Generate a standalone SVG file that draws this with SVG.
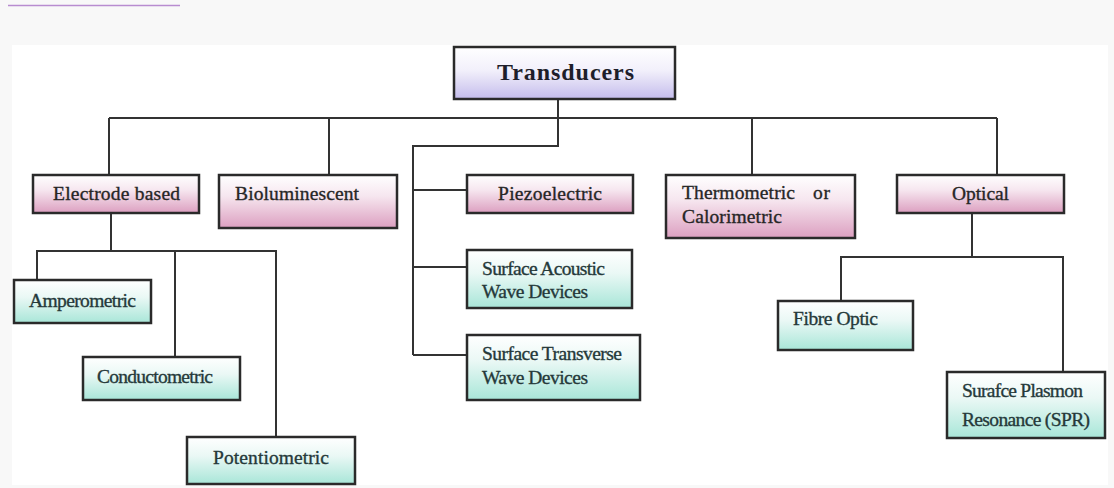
<svg xmlns="http://www.w3.org/2000/svg" width="1114" height="488" viewBox="0 0 1114 488">
<defs>
<linearGradient id="gPurple" x1="0" y1="0" x2="0" y2="1"><stop offset="0" stop-color="#ffffff"/><stop offset="0.45" stop-color="#f2f0fb"/><stop offset="1" stop-color="#c4bcec"/></linearGradient>
<linearGradient id="gPink" x1="0" y1="0" x2="0" y2="1"><stop offset="0" stop-color="#ffffff"/><stop offset="0.4" stop-color="#f6e6ef"/><stop offset="1" stop-color="#dc9fc0"/></linearGradient>
<linearGradient id="gTeal" x1="0" y1="0" x2="0" y2="1"><stop offset="0" stop-color="#ffffff"/><stop offset="0.4" stop-color="#eaf8f5"/><stop offset="1" stop-color="#a8e6d8"/></linearGradient>
</defs>
<style>
.box{stroke:#2a2a2a;stroke-width:2.5}
.p{fill:url(#gPink)}
.t{fill:url(#gTeal)}
.lbl{font-family:"Liberation Serif","Times New Roman",serif;font-size:19.5px;fill:#262626;stroke:#262626;stroke-width:0.35}
.tl{fill:#25393a;stroke:#25393a}
.title{font-family:"Liberation Serif","Times New Roman",serif;font-size:24px;font-weight:bold;fill:#1e1e2a}
.conn{fill:none;stroke:#333;stroke-width:2}
</style>
<rect x="0" y="0" width="1114" height="488" fill="#f8f8f8"/>
<rect x="12" y="45" width="1096" height="440" fill="#ffffff"/>
<line x1="8" y1="5.5" x2="180" y2="5.5" stroke="#b88cd0" stroke-width="1.5"/>

<g id="connectors">
<polyline class="conn" points="558,99 558,146 413,146 413,355"/>
<line class="conn" x1="109" y1="118" x2="997" y2="118"/>
<line class="conn" x1="109" y1="118" x2="109" y2="175"/>
<line class="conn" x1="329" y1="118" x2="329" y2="175"/>
<line class="conn" x1="752" y1="118" x2="752" y2="175"/>
<line class="conn" x1="997" y1="118" x2="997" y2="175"/>
<line class="conn" x1="413" y1="190" x2="467" y2="190"/>
<line class="conn" x1="413" y1="267" x2="467" y2="267"/>
<line class="conn" x1="413" y1="355" x2="467" y2="355"/>
<line class="conn" x1="111" y1="213" x2="111" y2="251"/>
<polyline class="conn" points="37,280 37,251 276,251 276,437"/>
<line class="conn" x1="175" y1="251" x2="175" y2="357"/>
<line class="conn" x1="972" y1="213" x2="972" y2="257"/>
<polyline class="conn" points="841,301 841,257 1063,257 1063,372"/>
</g>

<g id="transducers">
<rect class="box" x="454" y="47" width="221" height="52" fill="url(#gPurple)"/>
<text class="title" x="497" y="80" textLength="137" lengthAdjust="spacing">Transducers</text>
</g>
<g id="electrode">
<rect class="box p" x="33" y="175" width="166" height="38"/>
<text class="lbl" x="53" y="200" textLength="127" lengthAdjust="spacing">Electrode based</text>
</g>
<g id="bioluminescent">
<rect class="box p" x="219" y="175" width="178" height="53"/>
<text class="lbl" x="235" y="200" textLength="124" lengthAdjust="spacing">Bioluminescent</text>
</g>
<g id="piezoelectric">
<rect class="box p" x="467" y="175" width="166" height="38"/>
<text class="lbl" x="498" y="200" textLength="104" lengthAdjust="spacing">Piezoelectric</text>
</g>
<g id="thermometric">
<rect class="box p" x="666" y="175" width="189" height="63"/>
<text class="lbl" x="682" y="199" textLength="113" lengthAdjust="spacing">Thermometric</text>
<text class="lbl" x="813" y="199" textLength="17" lengthAdjust="spacing">or</text>
<text class="lbl" x="682" y="223" textLength="100" lengthAdjust="spacing">Calorimetric</text>
</g>
<g id="optical">
<rect class="box p" x="897" y="175" width="167" height="38"/>
<text class="lbl" x="952" y="200" textLength="57" lengthAdjust="spacing">Optical</text>
</g>
<g id="amperometric">
<rect class="box t" x="14" y="280" width="137" height="43"/>
<text class="lbl tl" x="29" y="307" textLength="107" lengthAdjust="spacing">Amperometric</text>
</g>
<g id="conductometric">
<rect class="box t" x="83" y="357" width="157" height="43"/>
<text class="lbl tl" x="97" y="383" textLength="116" lengthAdjust="spacing">Conductometric</text>
</g>
<g id="potentiometric">
<rect class="box t" x="187" y="437" width="168" height="47"/>
<text class="lbl tl" x="213" y="464" textLength="116" lengthAdjust="spacing">Potentiometric</text>
</g>
<g id="saw">
<rect class="box t" x="467" y="250" width="165" height="58"/>
<text class="lbl tl" x="482" y="275" textLength="123" lengthAdjust="spacing">Surface Acoustic</text>
<text class="lbl tl" x="482" y="298" textLength="106" lengthAdjust="spacing">Wave Devices</text>
</g>
<g id="stw">
<rect class="box t" x="467" y="335" width="173" height="65"/>
<text class="lbl tl" x="482" y="360" textLength="140" lengthAdjust="spacing">Surface Transverse</text>
<text class="lbl tl" x="482" y="384" textLength="106" lengthAdjust="spacing">Wave Devices</text>
</g>
<g id="fibre">
<rect class="box t" x="778" y="301" width="135" height="49"/>
<text class="lbl tl" x="793" y="325" textLength="85" lengthAdjust="spacing">Fibre Optic</text>
</g>
<g id="spr">
<rect class="box t" x="947" y="372" width="158" height="66"/>
<text class="lbl tl" x="962" y="397" textLength="121" lengthAdjust="spacing">Surafce Plasmon</text>
<text class="lbl tl" x="962" y="426" textLength="128" lengthAdjust="spacing">Resonance (SPR)</text>
</g>
</svg>
